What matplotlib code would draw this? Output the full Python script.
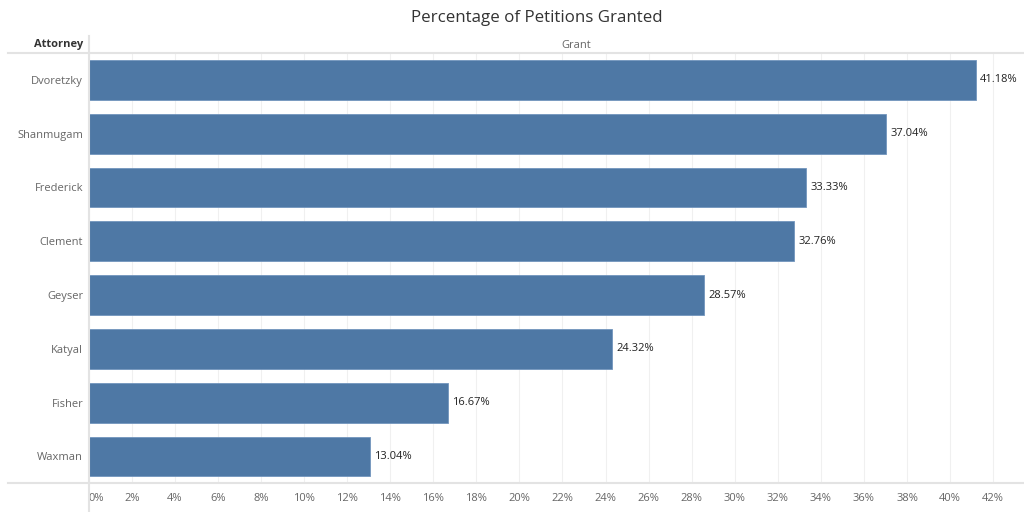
import matplotlib.pyplot as plt
from matplotlib.lines import Line2D

attorneys = ["Dvoretzky", "Shanmugam", "Frederick", "Clement",
             "Geyser", "Katyal", "Fisher", "Waxman"]
grant_pct = [41.18, 37.04, 33.33, 32.76, 28.57, 24.32, 16.67, 13.04]
tick_values = list(range(0, 44, 2))

BAR_COLOR = "#4e78a5"
LINE_COLOR = "#e3e3e3"
W, H = 1024, 512

plt.rcParams['font.family'] = ['Open Sans', 'DejaVu Sans']

fig = plt.figure(figsize=(W / 100, H / 100), dpi=100)
left, right, top, bottom = 88.7, 1024, 53, 483.3
ax = fig.add_axes([left / W, (H - bottom) / H, (right - left) / W, (bottom - top) / H])

y = list(range(len(attorneys)))
ax.barh(y, grant_pct, height=0.74, color=BAR_COLOR, edgecolor="#7295bd",
        linewidth=0.6, zorder=2)
for yi, v in zip(y, grant_pct):
    ax.annotate(f"{v:.2f}%", (v, yi), xytext=(3, 0), textcoords="offset points",
                va="center", ha="left", fontsize=8, color="#222222")

ax.set_ylim(len(attorneys) - 0.5, -0.5)
ax.set_xlim(0, (right - left) / 43.07 * 2)
ax.set_yticks(y)
ax.set_yticklabels(attorneys, fontsize=8, color="#666666")
ax.set_xticks(tick_values)
ax.set_xticklabels([f"{v}%" for v in tick_values], fontsize=8, color="#666666")
ax.get_xticklabels()[0].set_horizontalalignment("left")
ax.tick_params(axis="both", length=0)
ax.tick_params(axis="x", pad=7)
ax.tick_params(axis="y", pad=4)
ax.grid(axis="x", color="#f0f0f0", linewidth=0.8, zorder=0)
ax.set_axisbelow(True)
for s in ax.spines.values():
    s.set_visible(False)

# header / frame lines in figure pixels
def fline(x0, y0, x1, y1):
    fig.add_artist(Line2D([x0 / W, x1 / W], [1 - y0 / H, 1 - y1 / H],
                          color=LINE_COLOR, linewidth=1.5, transform=fig.transFigure))

fline(8, top, W, top)
fline(8, bottom, W, bottom)
fline(left, 36, left, H)

fig.text(537 / W, 1 - 18 / H, "Percentage of Petitions Granted", ha="center",
         va="center", fontsize=12.2, color="#333333")
fig.text(83 / W, 1 - 45 / H, "Attorney", ha="right", va="center",
         fontsize=8, fontweight="bold", color="#333333")
fig.text(576 / W, 1 - 45 / H, "Grant", ha="center", va="center",
         fontsize=8, color="#666666")

fig.savefig("out.png", dpi=100)
